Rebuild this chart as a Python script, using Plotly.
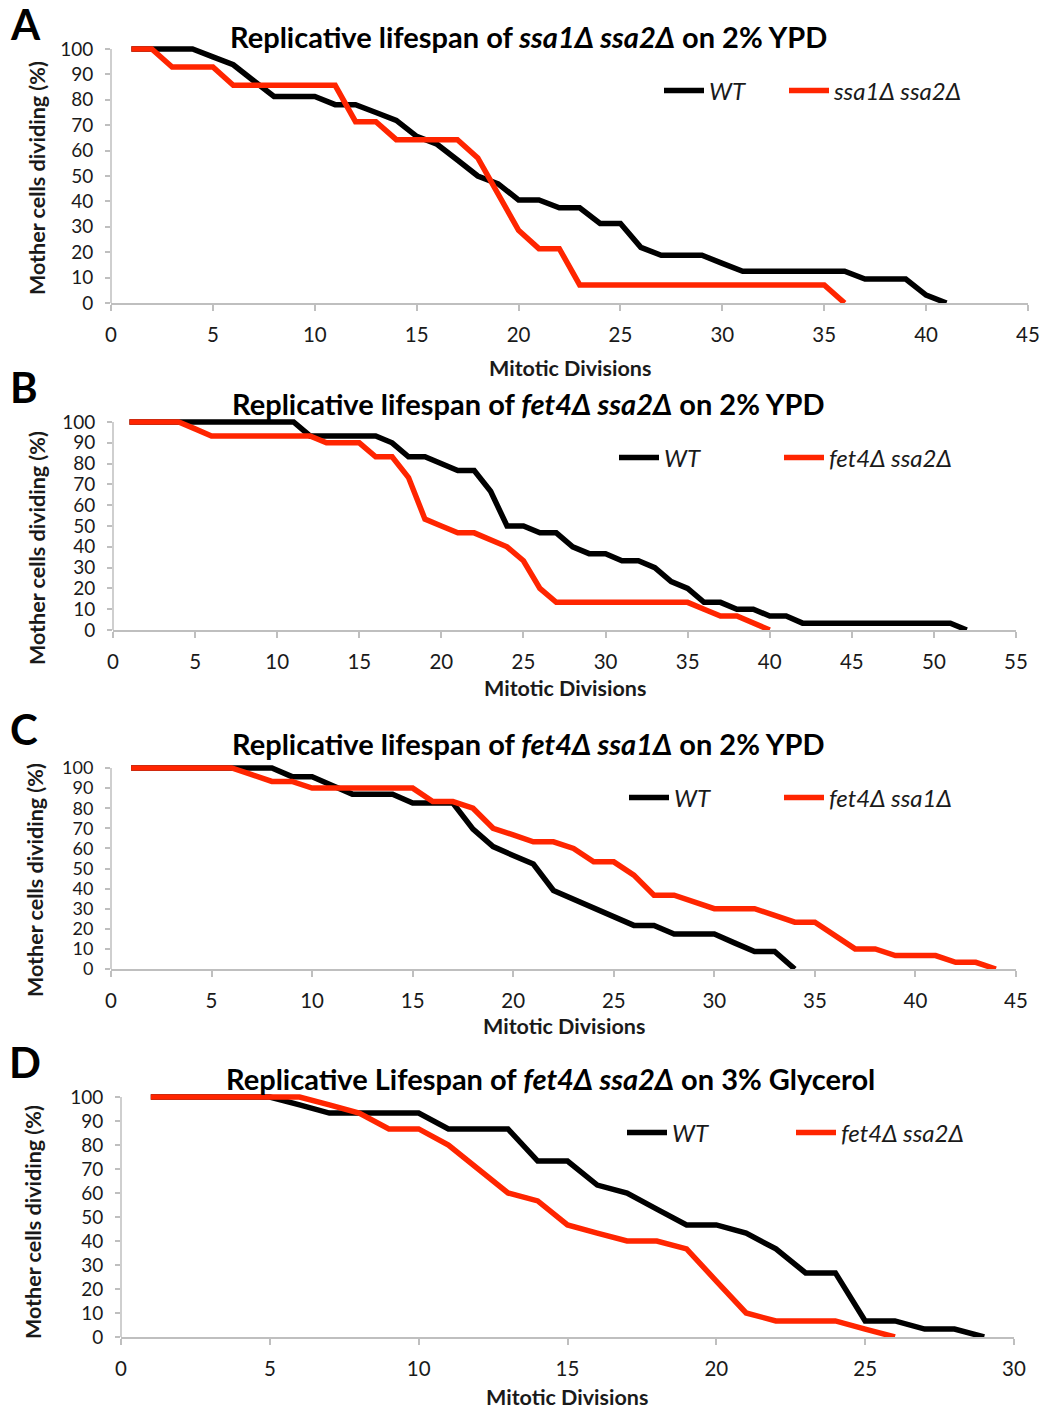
import plotly.graph_objects as go

W, H = 1042, 1410
FONT = "Lato"
BLACK = "#000000"
RED = "#FF2500"
AXIS = "#BFBFBF"

# ---------------- data (mother cells dividing, %) ----------------
# Panel A: ssa1Δ ssa2Δ on 2% YPD
a_wt = [100, 100, 100, 100, 96.9, 93.8, 87.5, 81.3, 81.3, 81.3, 78.1, 78.1, 75, 71.9, 65.6,
        62.5, 56.3, 50, 46.9, 40.6, 40.6, 37.5, 37.5, 31.3, 31.3, 21.9, 18.8, 18.8, 18.8, 15.6,
        12.5, 12.5, 12.5, 12.5, 12.5, 12.5, 9.4, 9.4, 9.4, 3.1, 0]
a_mut = [100, 100, 92.9, 92.9, 92.9, 85.7, 85.7, 85.7, 85.7, 85.7, 85.7, 71.4, 71.4, 64.3, 64.3,
         64.3, 64.3, 57.1, 42.9, 28.6, 21.4, 21.4, 7.1, 7.1, 7.1, 7.1, 7.1, 7.1, 7.1, 7.1,
         7.1, 7.1, 7.1, 7.1, 7.1, 0]

# Panel B: fet4Δ ssa2Δ on 2% YPD
b_wt = [100, 100, 100, 100, 100, 100, 100, 100, 100, 100, 100, 93.3, 93.3, 93.3, 93.3, 93.3,
        90, 83.3, 83.3, 80, 76.7, 76.7, 66.7, 50, 50, 46.7, 46.7, 40, 36.7, 36.7, 33.3, 33.3,
        30, 23.3, 20, 13.3, 13.3, 10, 10, 6.7, 6.7, 3.3, 3.3, 3.3, 3.3, 3.3, 3.3, 3.3, 3.3,
        3.3, 3.3, 0]
b_mut = [100, 100, 100, 100, 96.7, 93.3, 93.3, 93.3, 93.3, 93.3, 93.3, 93.3, 90, 90, 90,
         83.3, 83.3, 73.3, 53.3, 50, 46.7, 46.7, 43.3, 40, 33.3, 20, 13.3, 13.3, 13.3, 13.3,
         13.3, 13.3, 13.3, 13.3, 13.3, 10, 6.7, 6.7, 3.3, 0]

# Panel C: fet4Δ ssa1Δ on 2% YPD
c_wt = [100, 100, 100, 100, 100, 100, 100, 100, 95.7, 95.7, 91.3, 87, 87, 87, 82.6, 82.6,
        82.6, 69.6, 60.9, 56.5, 52.2, 39.1, 34.8, 30.4, 26.1, 21.7, 21.7, 17.4, 17.4, 17.4,
        13, 8.7, 8.7, 0]
c_mut = [100, 100, 100, 100, 100, 100, 96.7, 93.3, 93.3, 90, 90, 90, 90, 90, 90, 83.3, 83.3,
         80, 70, 66.7, 63.3, 63.3, 60, 53.3, 53.3, 46.7, 36.7, 36.7, 33.3, 30, 30, 30, 26.7,
         23.3, 23.3, 16.7, 10, 10, 6.7, 6.7, 6.7, 3.3, 3.3, 0]

# Panel D: fet4Δ ssa2Δ on 3% Glycerol
d_wt = [100, 100, 100, 100, 100, 96.7, 93.3, 93.3, 93.3, 93.3, 86.7, 86.7, 86.7, 73.3, 73.3,
        63.3, 60, 53.3, 46.7, 46.7, 43.3, 36.7, 26.7, 26.7, 6.7, 6.7, 3.3, 3.3, 0]
d_mut = [100, 100, 100, 100, 100, 100, 96.7, 93.3, 86.7, 86.7, 80, 70, 60, 56.7, 46.7, 43.3,
         40, 40, 36.7, 23.3, 10, 6.7, 6.7, 6.7, 3.3, 0]

y_ticks = [0, 10, 20, 30, 40, 50, 60, 70, 80, 90, 100]

panels = [
    dict(letter="A", title="Replicative lifespan of <i>ssa1Δ ssa2Δ</i> on 2% YPD",
         wt=a_wt, mut=a_mut, mut_name="ssa1Δ ssa2Δ", xmax=45,
         px=(111, 1028), py=(49, 303), title_xy=(528, 36), letter_xy=(25, 24),
         ytitle_xy=(37, 178), xtitle_xy=(570, 368), leg_y=91, leg_x=(659, 784), ytf=19),
    dict(letter="B", title="Replicative lifespan of <i>fet4Δ ssa2Δ</i> on 2% YPD",
         wt=b_wt, mut=b_mut, mut_name="fet4Δ ssa2Δ", xmax=55,
         px=(113, 1016), py=(422, 630), title_xy=(528, 404), letter_xy=(24, 387),
         ytitle_xy=(37, 548), xtitle_xy=(565, 688), leg_y=458, leg_x=(614, 779), ytf=19),
    dict(letter="C", title="Replicative lifespan of <i>fet4Δ ssa1Δ</i> on 2% YPD",
         wt=c_wt, mut=c_mut, mut_name="fet4Δ ssa1Δ", xmax=45,
         px=(111, 1016), py=(768, 969), title_xy=(528, 743), letter_xy=(24, 729),
         ytitle_xy=(35, 880), xtitle_xy=(564, 1026), leg_y=798, leg_x=(624, 779), ytf=18),
    dict(letter="D", title="Replicative Lifespan of <i>fet4Δ ssa2Δ</i> on 3% Glycerol",
         wt=d_wt, mut=d_mut, mut_name="fet4Δ ssa2Δ", xmax=30,
         px=(121, 1014), py=(1097, 1337), title_xy=(550, 1078), letter_xy=(25, 1062),
         ytitle_xy=(33, 1222), xtitle_xy=(567, 1397), leg_y=1133, leg_x=(622, 791), ytf=19),
]

YTOP = 104  # headroom so lines at 100 % are not clipped

fig = go.Figure()
annotations = []
shapes = []
leg_n = 0

for i, p in enumerate(panels, start=1):
    sfx = "" if i == 1 else str(i)
    xa, ya = "x" + sfx, "y" + sfx

    series = [("WT", p["wt"], BLACK), (p["mut_name"], p["mut"], RED)]
    for (name, vals, col), lxp in zip(series, p["leg_x"]):
        leg_n += 1
        leg = "legend" if leg_n == 1 else "legend" + str(leg_n)
        fig.add_trace(go.Scatter(x=list(range(1, len(vals) + 1)), y=vals, mode="lines",
                                 name=name, line=dict(color=col, width=5.5),
                                 xaxis=xa, yaxis=ya, legend=leg))
        fig.layout[leg] = dict(orientation="h", x=lxp / W, y=1 - p["leg_y"] / H,
                               xanchor="left", yanchor="middle",
                               bgcolor="rgba(0,0,0,0)", itemwidth=40,
                               font=dict(family=FONT, size=24, color="#1a1a1a",
                                         style="italic"))

    x0, x1 = p["px"]
    y100, y0 = p["py"]
    ytop_px = y100 - (YTOP - 100) * (y0 - y100) / 100.0
    xdom = [x0 / W, x1 / W]
    ydom = [1 - y0 / H, 1 - ytop_px / H]

    fig.layout["xaxis" + sfx] = dict(
        domain=xdom, anchor=ya, range=[0, p["xmax"]], dtick=5, tick0=0,
        showline=True, linecolor=AXIS, linewidth=1.5, showgrid=False, zeroline=False,
        ticks="outside", ticklen=6, tickwidth=1.5, tickcolor=AXIS,
        tickfont=dict(family=FONT, size=20.5, color="#1a1a1a"), ticklabelstandoff=7)
    fig.layout["yaxis" + sfx] = dict(
        domain=ydom, anchor=xa, range=[0, YTOP], tickvals=y_ticks,
        showline=False, showgrid=False, zeroline=False,
        ticks="outside", ticklen=5, tickwidth=1.5, tickcolor=AXIS,
        tickfont=dict(family=FONT, size=p["ytf"], color="#1a1a1a"), ticklabelstandoff=8)

    shapes.append(dict(type="line", xref=xa + " domain", yref=ya, x0=0, x1=0, y0=0, y1=100,
                       line=dict(color=AXIS, width=1.5), layer="below"))

    tx, ty = p["title_xy"]
    annotations.append(dict(text="<b>" + p["title"] + "</b>", x=tx / W, y=1 - ty / H,
                            xref="paper", yref="paper", showarrow=False,
                            xanchor="center", yanchor="middle",
                            font=dict(family=FONT, size=29, color="#000000")))
    lx2, ly2 = p["letter_xy"]
    annotations.append(dict(text="<b>" + p["letter"] + "</b>", x=lx2 / W, y=1 - ly2 / H,
                            xref="paper", yref="paper", showarrow=False,
                            xanchor="center", yanchor="middle",
                            font=dict(family=FONT, size=42, color="#000000")))
    yx, yy = p["ytitle_xy"]
    annotations.append(dict(text="<b>Mother cells dividing (%)</b>", x=yx / W, y=1 - yy / H,
                            xref="paper", yref="paper", showarrow=False, textangle=-90,
                            xanchor="center", yanchor="middle",
                            font=dict(family=FONT, size=21.5, color="#1a1a1a")))
    xx, xy = p["xtitle_xy"]
    annotations.append(dict(text="<b>Mitotic Divisions</b>", x=xx / W, y=1 - xy / H,
                            xref="paper", yref="paper", showarrow=False,
                            xanchor="center", yanchor="middle",
                            font=dict(family=FONT, size=21.5, color="#1a1a1a")))

fig.update_layout(width=W, height=H,
                  margin=dict(l=0, r=0, t=0, b=0, pad=0, autoexpand=False),
                  paper_bgcolor="white", plot_bgcolor="white",
                  annotations=annotations, shapes=shapes, showlegend=True,
                  font=dict(family=FONT))

fig.write_html("out.html", config={"displayModeBar": False},
               post_script="document.body.style.margin='0';"
                           "document.body.style.overflow='hidden';")
